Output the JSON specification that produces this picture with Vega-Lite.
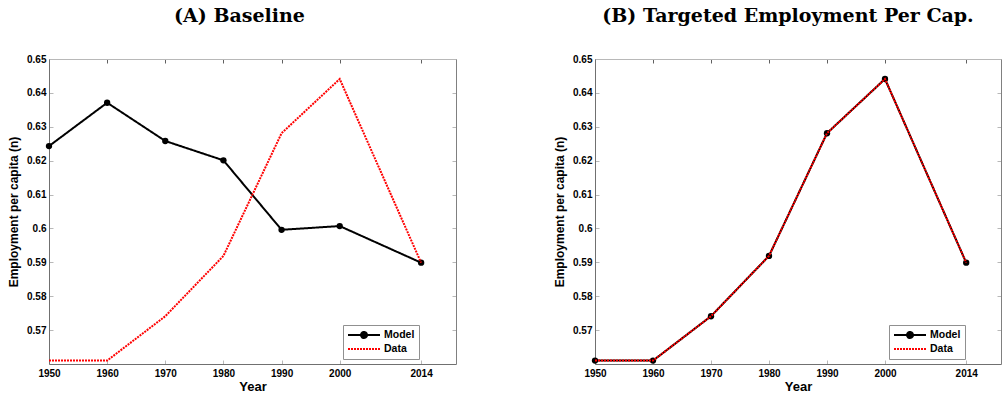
{
  "$schema": "https://vega.github.io/schema/vega-lite/v6.json",
  "padding": {"left": 7, "top": 7, "right": 0, "bottom": 0},
  "background": "white",
  "datasets": {
    "baseline": [
      {"series": "Model", "year": 1950, "n": 0.6243},
      {"series": "Model", "year": 1960, "n": 0.6371},
      {"series": "Model", "year": 1970, "n": 0.6258},
      {"series": "Model", "year": 1980, "n": 0.6201},
      {"series": "Model", "year": 1990, "n": 0.5996},
      {"series": "Model", "year": 2000, "n": 0.6007},
      {"series": "Model", "year": 2014, "n": 0.5899},
      {"series": "Data", "year": 1950, "n": 0.561},
      {"series": "Data", "year": 1960, "n": 0.561},
      {"series": "Data", "year": 1970, "n": 0.5741},
      {"series": "Data", "year": 1980, "n": 0.5919},
      {"series": "Data", "year": 1990, "n": 0.6281},
      {"series": "Data", "year": 2000, "n": 0.6441},
      {"series": "Data", "year": 2014, "n": 0.5899}
    ],
    "targeted": [
      {"series": "Model", "year": 1950, "n": 0.561},
      {"series": "Model", "year": 1960, "n": 0.561},
      {"series": "Model", "year": 1970, "n": 0.5741},
      {"series": "Model", "year": 1980, "n": 0.5919},
      {"series": "Model", "year": 1990, "n": 0.6281},
      {"series": "Model", "year": 2000, "n": 0.6441},
      {"series": "Model", "year": 2014, "n": 0.5899},
      {"series": "Data", "year": 1950, "n": 0.561},
      {"series": "Data", "year": 1960, "n": 0.561},
      {"series": "Data", "year": 1970, "n": 0.5741},
      {"series": "Data", "year": 1980, "n": 0.5919},
      {"series": "Data", "year": 1990, "n": 0.6281},
      {"series": "Data", "year": 2000, "n": 0.6441},
      {"series": "Data", "year": 2014, "n": 0.5899}
    ]
  },
  "config": {
    "view": {"stroke": null},
    "font": "Liberation Sans",
    "axis": {
      "grid": false,
      "labelFlush": false,
      "labelOverlap": false,
      "labelFont": "Liberation Sans",
      "labelFontWeight": "bold",
      "labelFontSize": 10,
      "labelColor": "#000",
      "titleFont": "Liberation Sans",
      "titleFontWeight": "bold",
      "titleColor": "#000",
      "domainColor": "#707070",
      "domainWidth": 1,
      "tickColor": "#b8b8b8",
      "tickSize": -4,
      "tickWidth": 1
    },
    "title": {
      "font": "DejaVu Serif",
      "fontWeight": "bold",
      "fontSize": 19,
      "color": "#000",
      "anchor": "middle",
      "baseline": "alphabetic",
      "offset": 28
    },
    "legend": {
      "orient": "none",
      "legendX": 294,
      "legendY": 266,
      "strokeColor": "#909090",
      "fillColor": "white",
      "padding": 4,
      "rowPadding": 1,
      "labelFont": "Liberation Sans",
      "labelFontWeight": "bold",
      "labelFontSize": 10.5,
      "labelColor": "#000",
      "labelOffset": 25,
      "symbolType": "stroke",
      "symbolSize": 100,
      "symbolStrokeWidth": 2
    }
  },
  "hconcat": [
    {
      "width": 407,
      "height": 305,
      "title": {"text": "(A) Baseline", "dx": -13},
      "data": {"name": "baseline"},
      "encoding": {
        "x": {"field": "year", "type": "quantitative", "scale": {"domain": [1950, 2020], "nice": false, "zero": false}},
        "y": {"field": "n", "type": "quantitative", "scale": {"domain": [0.56, 0.65], "nice": false, "zero": false}}
      },
      "layer": [
        {
          "transform": [{"filter": "datum.series == 'Model'"}],
          "mark": {"type": "line", "strokeWidth": 2},
          "encoding": {
            "x": {"field": "year", "type": "quantitative", "title": "Year",
              "axis": {"values": [1950, 1960, 1970, 1980, 1990, 2000, 2014], "format": "d", "labelPadding": 8, "titleFontSize": 13, "titlePadding": 2}},
            "y": {"field": "n", "type": "quantitative", "title": "Employment per capita (n)",
              "axis": {"values": [0.57, 0.58, 0.59, 0.6, 0.61, 0.62, 0.63, 0.64, 0.65], "format": ".2~f", "labelPadding": 7, "titleFontSize": 12, "titlePadding": 6}},
            "color": {"field": "series", "type": "nominal", "title": null,
              "scale": {"domain": ["Model", "Data"], "range": ["#000000", "#ff0000"]},
              "legend": {"title": null, "encode": {"symbols": {"update": {
                "x": {"value": 17},
                "shape": {"signal": "datum.value == 'Model' ? 'M-3.2,0H3.2M-0.6,0A0.6,0.6,0,1,1,0.6,0A0.6,0.6,0,1,1,-0.6,0Z' : 'M-3.2,0H3.2'"},
                "fill": {"signal": "datum.value == 'Model' ? '#000000' : 'transparent'"}
              }}}}},
            "strokeDash": {"field": "series", "type": "nominal", "title": null,
              "scale": {"domain": ["Model", "Data"], "range": [[1, 0], [2, 1]]}}
          }
        },
        {
          "transform": [{"filter": "datum.series == 'Model'"}],
          "mark": {"type": "point", "filled": true, "size": 40, "color": "#000000", "opacity": 1},
          "encoding": {
            "x": {"field": "year", "type": "quantitative", "axis": null},
            "y": {"field": "n", "type": "quantitative", "axis": null}
          }
        },
        {
          "transform": [{"filter": "datum.series == 'Data'"}],
          "mark": {"type": "line", "strokeWidth": 2},
          "encoding": {
            "x": {"field": "year", "type": "quantitative", "axis": null},
            "y": {"field": "n", "type": "quantitative", "axis": null},
            "color": {"field": "series", "type": "nominal"},
            "strokeDash": {"field": "series", "type": "nominal"}
          }
        },
        {
          "mark": {"type": "point", "opacity": 0},
          "encoding": {
            "x": {"field": "year", "type": "quantitative",
              "axis": {"orient": "top", "values": [1950, 1960, 1970, 1980, 1990, 2000, 2014], "labels": false, "title": null, "domainColor": "#b8b8b8", "tickColor": "#606060"}},
            "y": {"field": "n", "type": "quantitative",
              "axis": {"orient": "right", "values": [0.57, 0.58, 0.59, 0.6, 0.61, 0.62, 0.63, 0.64, 0.65], "labels": false, "title": null, "domainColor": "#808080", "tickColor": "#b8b8b8"}}
          }
        }
      ],
      "resolve": {"axis": {"x": "independent", "y": "independent"}}
    },
    {
      "width": 406,
      "height": 305,
      "title": {"text": "(B) Targeted Employment Per Cap.", "dx": -10},
      "data": {"name": "targeted"},
      "encoding": {
        "x": {"field": "year", "type": "quantitative", "scale": {"domain": [1950, 2020], "nice": false, "zero": false}},
        "y": {"field": "n", "type": "quantitative", "scale": {"domain": [0.56, 0.65], "nice": false, "zero": false}}
      },
      "layer": [
        {
          "transform": [{"filter": "datum.series == 'Model'"}],
          "mark": {"type": "line", "strokeWidth": 2},
          "encoding": {
            "x": {"field": "year", "type": "quantitative", "title": "Year",
              "axis": {"values": [1950, 1960, 1970, 1980, 1990, 2000, 2014], "format": "d", "labelPadding": 8, "titleFontSize": 13, "titlePadding": 2}},
            "y": {"field": "n", "type": "quantitative", "title": "Employment per capita (n)",
              "axis": {"values": [0.57, 0.58, 0.59, 0.6, 0.61, 0.62, 0.63, 0.64, 0.65], "format": ".2~f", "labelPadding": 7, "titleFontSize": 12, "titlePadding": 6}},
            "color": {"field": "series", "type": "nominal", "title": null,
              "scale": {"domain": ["Model", "Data"], "range": ["#000000", "#ff0000"]},
              "legend": {"title": null, "encode": {"symbols": {"update": {
                "x": {"value": 17},
                "shape": {"signal": "datum.value == 'Model' ? 'M-3.2,0H3.2M-0.6,0A0.6,0.6,0,1,1,0.6,0A0.6,0.6,0,1,1,-0.6,0Z' : 'M-3.2,0H3.2'"},
                "fill": {"signal": "datum.value == 'Model' ? '#000000' : 'transparent'"}
              }}}}},
            "strokeDash": {"field": "series", "type": "nominal", "title": null,
              "scale": {"domain": ["Model", "Data"], "range": [[1, 0], [2, 1]]}}
          }
        },
        {
          "transform": [{"filter": "datum.series == 'Model'"}],
          "mark": {"type": "point", "filled": true, "size": 40, "color": "#000000", "opacity": 1},
          "encoding": {
            "x": {"field": "year", "type": "quantitative", "axis": null},
            "y": {"field": "n", "type": "quantitative", "axis": null}
          }
        },
        {
          "transform": [{"filter": "datum.series == 'Data'"}],
          "mark": {"type": "line", "strokeWidth": 2},
          "encoding": {
            "x": {"field": "year", "type": "quantitative", "axis": null},
            "y": {"field": "n", "type": "quantitative", "axis": null},
            "color": {"field": "series", "type": "nominal"},
            "strokeDash": {"field": "series", "type": "nominal"}
          }
        },
        {
          "mark": {"type": "point", "opacity": 0},
          "encoding": {
            "x": {"field": "year", "type": "quantitative",
              "axis": {"orient": "top", "values": [1950, 1960, 1970, 1980, 1990, 2000, 2014], "labels": false, "title": null, "domainColor": "#b8b8b8", "tickColor": "#606060"}},
            "y": {"field": "n", "type": "quantitative",
              "axis": {"orient": "right", "values": [0.57, 0.58, 0.59, 0.6, 0.61, 0.62, 0.63, 0.64, 0.65], "labels": false, "title": null, "domainColor": "#808080", "tickColor": "#b8b8b8"}}
          }
        }
      ],
      "resolve": {"axis": {"x": "independent", "y": "independent"}}
    }
  ],
  "spacing": 96,
  "resolve": {
    "scale": {"color": "independent", "strokeDash": "independent"},
    "legend": {"color": "independent", "strokeDash": "independent"}
  }
}
